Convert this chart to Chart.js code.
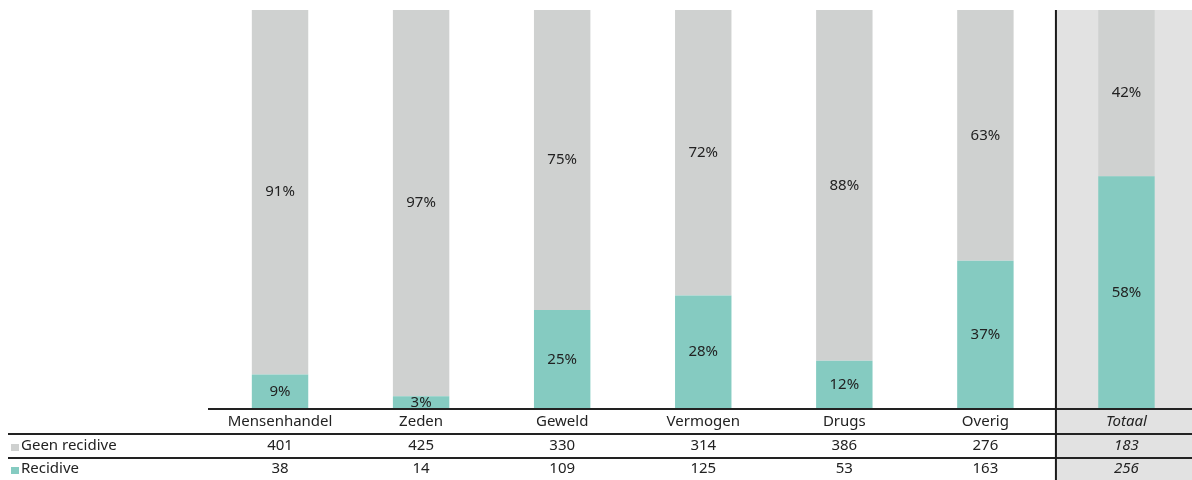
<!DOCTYPE html>
<html>
<head>
<meta charset="utf-8">
<script src="https://cdn.jsdelivr.net/npm/chart.js@4"></script>
<style>
  html, body { margin: 0; padding: 0; background: #fff; overflow: hidden; }
  #wrap { width: 1197px; height: 480px; }
</style>
</head>
<body>
<div id="wrap"><canvas id="chart" width="1197" height="480"></canvas></div>
<script>
const categories = ['Mensenhandel', 'Zeden', 'Geweld', 'Vermogen', 'Drugs', 'Overig', 'Totaal'];
const geenRecidive = [401, 425, 330, 314, 386, 276, 183];
const recidive = [38, 14, 109, 125, 53, 163, 256];
const seriesNames = ['Geen recidive', 'Recidive'];

const GREY = '#cfd1d0';
const TEAL = '#85cbc1';
const FONT = '"Noto Sans", "Open Sans", sans-serif';

const totals = categories.map((c, i) => geenRecidive[i] + recidive[i]);
const pctGeen = geenRecidive.map((v, i) => v / totals[i] * 100);
const pctRec = recidive.map((v, i) => v / totals[i] * 100);

function line(ctx, x1, y1, x2, y2, w, col) {
    ctx.save();
    ctx.strokeStyle = col;
    ctx.lineWidth = w;
    ctx.beginPath();
    ctx.moveTo(x1, y1);
    ctx.lineTo(x2, y2);
    ctx.stroke();
    ctx.restore();
}

const tablePlugin = {
    id: 'table',
    beforeDatasetsDraw(chart) {
        const ctx = chart.ctx;
        const xs = chart.scales.x;
        const w = xs.width / categories.length;
        const x0 = xs.getPixelForValue(categories.length - 1) - w / 2;
        ctx.save();
        ctx.fillStyle = '#e2e2e2';
        ctx.fillRect(x0, chart.chartArea.top, chart.width - x0, chart.height - chart.chartArea.top);
        ctx.restore();
    },
    afterDatasetsDraw(chart) {
        const ctx = chart.ctx;
        const xs = chart.scales.x;
        const area = chart.chartArea;
        const w = xs.width / categories.length;
        const last = categories.length - 1;
        const x0 = xs.getPixelForValue(last) - w / 2;

        // percentage labels inside segments
        ctx.save();
        ctx.fillStyle = '#222';
        ctx.font = '15px ' + FONT;
        ctx.textAlign = 'center';
        ctx.textBaseline = 'middle';
        chart.data.datasets.forEach((ds, di) => {
            chart.getDatasetMeta(di).data.forEach((bar, i) => {
                const txt = Math.round(ds.data[i]) + '%';
                ctx.fillText(txt, bar.x, (bar.y + bar.base) / 2);
            });
        });
        ctx.restore();

        // lines
        line(ctx, 208, area.bottom, chart.width, area.bottom, 2, '#222');
        line(ctx, 8, 434, chart.width, 434, 2, '#222');
        line(ctx, 8, 458, chart.width, 458, 2, '#222');
        line(ctx, x0, area.top, x0, chart.height, 2, '#1a1a1a');

        // table text
        const rows = [geenRecidive, recidive];
        const colors = [GREY, TEAL];
        ctx.save();
        ctx.fillStyle = '#222';
        ctx.textBaseline = 'middle';
        ctx.textAlign = 'center';
        categories.forEach((c, i) => {
            const x = xs.getPixelForValue(i);
            ctx.font = (i === last ? 'italic ' : '') + '15px ' + FONT;
            ctx.fillText(c, x, 422);
            ctx.fillText(String(rows[0][i]), x, 446);
            ctx.fillText(String(rows[1][i]), x, 469);
        });
        ctx.textAlign = 'left';
        ctx.font = '15px ' + FONT;
        [446, 469].forEach((y, r) => {
            ctx.fillStyle = colors[r];
            ctx.fillRect(11, y - 2, 8, 7);
            ctx.fillStyle = '#222';
            ctx.fillText(seriesNames[r], 21, y);
        });
        ctx.restore();
    }
};

new Chart(document.getElementById('chart'), {
    type: 'bar',
    data: {
        labels: categories,
        datasets: [
            { label: seriesNames[1], data: pctRec, backgroundColor: TEAL },
            { label: seriesNames[0], data: pctGeen, backgroundColor: GREY }
        ]
    },
    options: {
        responsive: false,
        animation: false,
        layout: { padding: { left: 209.5, top: 10, right: 0, bottom: 71 } },
        datasets: { bar: { categoryPercentage: 1, barPercentage: 0.4 } },
        scales: {
            x: { display: false, stacked: true, offset: true },
            y: { display: false, stacked: true, min: 0, max: 100 }
        },
        plugins: { legend: { display: false }, tooltip: { enabled: false } }
    },
    plugins: [tablePlugin]
});
</script>
</body>
</html>
